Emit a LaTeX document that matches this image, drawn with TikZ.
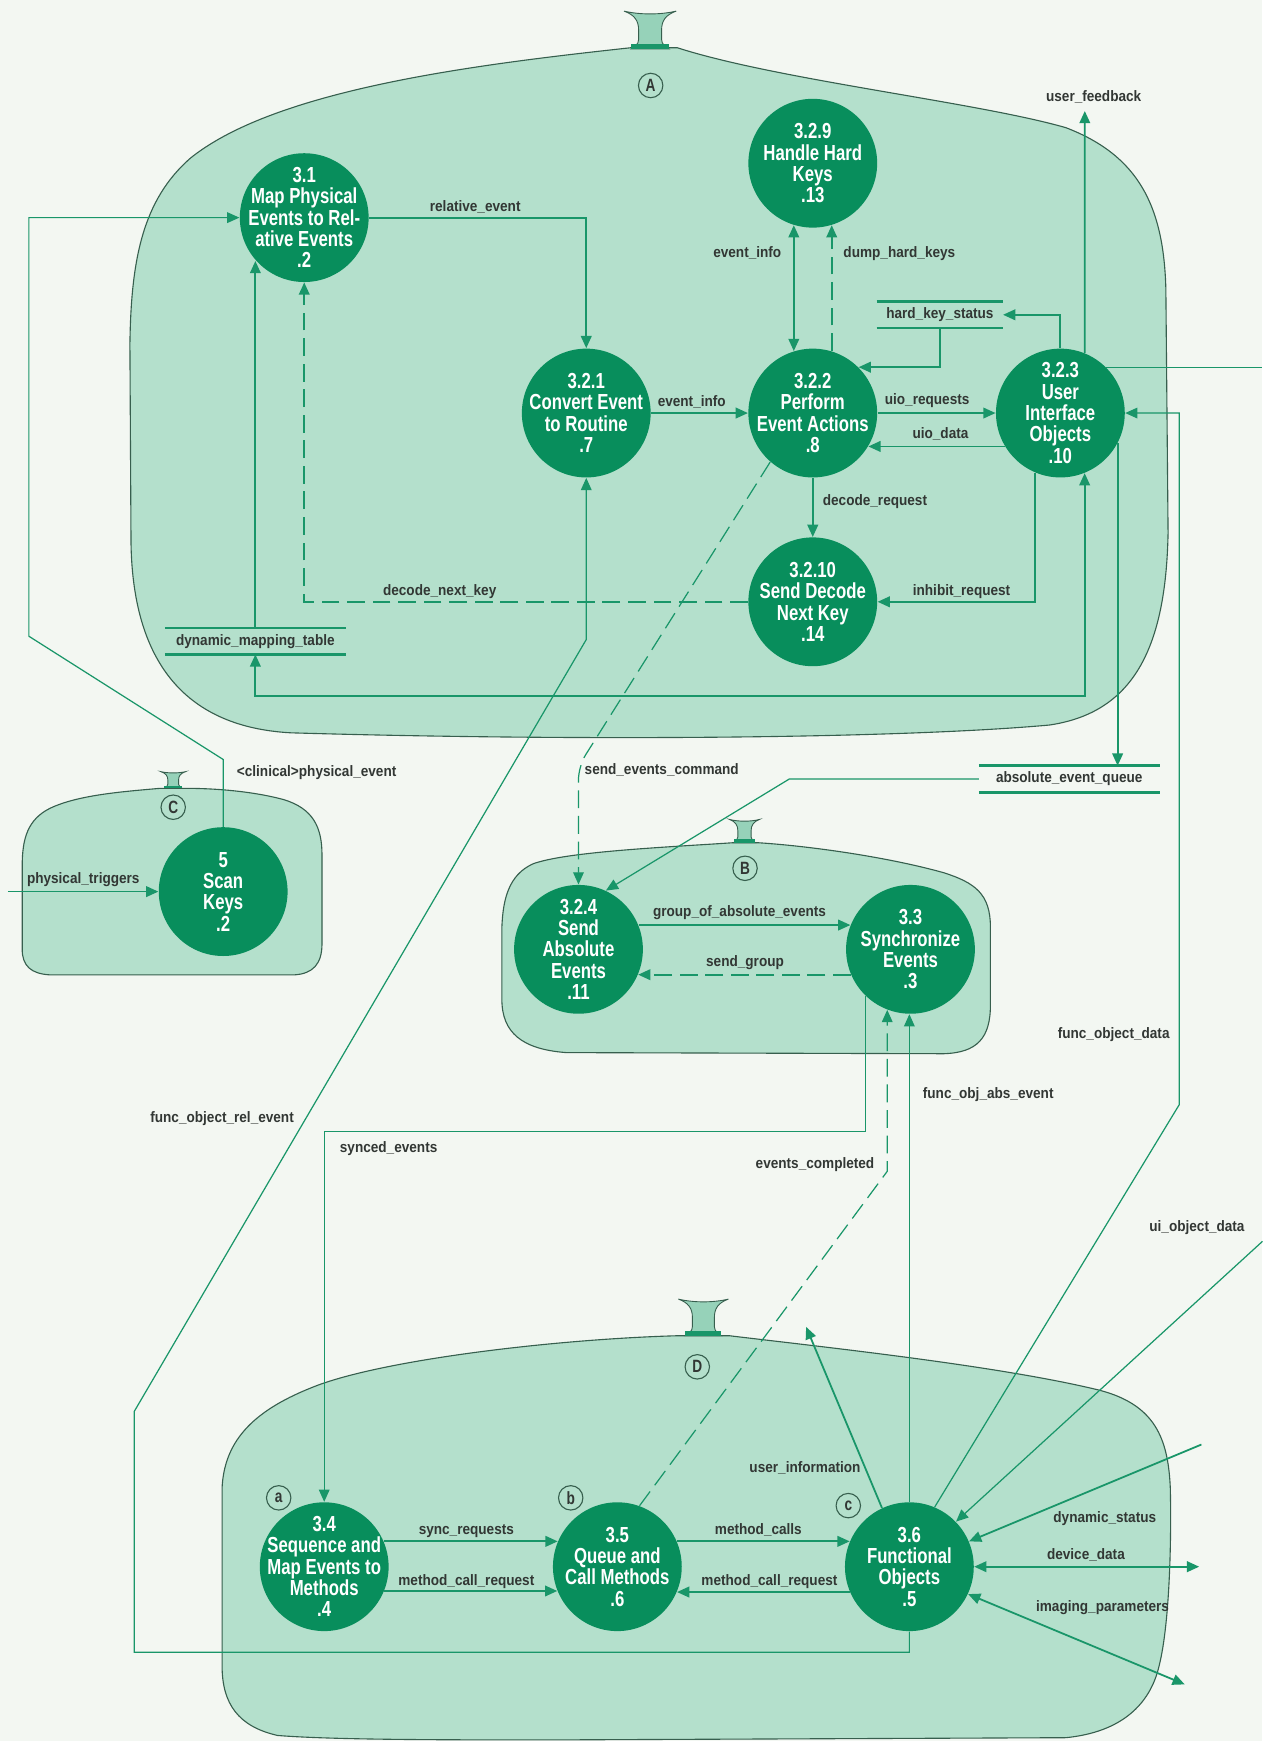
\documentclass[tikz,border=0pt]{standalone}
\usepackage{fontspec}
\setmainfont{Liberation Sans}
\newfontfamily\procfont{Liberation Sans}[FakeStretch=0.77]
\newfontfamily\labelfont{Liberation Sans}[FakeStretch=0.9]
\usepackage{xcolor}
\usetikzlibrary{arrows.meta,positioning}

\definecolor{pagebg}{RGB}{243,247,242}
\definecolor{blobfill}{RGB}{180,224,204}
\definecolor{procgreen}{RGB}{8,142,92}
\definecolor{flowgreen}{RGB}{25,150,105}
\definecolor{blobline}{RGB}{55,95,78}
\definecolor{labelgray}{RGB}{50,55,52}
\definecolor{neckfill}{RGB}{150,210,185}

\tikzset{
  >={Triangle[length=5.5pt,width=4.8pt]},
  proc/.style={circle, fill=procgreen, text=white, minimum size=58pt, inner sep=-9pt,
    align=center, font=\procfont\bfseries\fontsize{9.8}{9.6}\selectfont},
  lbl/.style={text=labelgray, inner sep=0pt, font=\labelfont\bfseries\fontsize{6.8}{8}\selectfont},
  storeline/.style={draw=flowgreen, line width=1.3pt},
  store/.style={lbl, minimum width=#1, minimum height=11.5pt,
    append after command={(\tikzlastnode.north west) edge[storeline] (\tikzlastnode.north east)
      (\tikzlastnode.south west) edge[storeline] (\tikzlastnode.south east)}},
  tag/.style={circle, draw=blobline, line width=0.5pt, inner sep=0pt, minimum size=11pt,
    text=labelgray, font=\procfont\bfseries\fontsize{8}{8}\selectfont},
  blob/.style={fill=blobfill, draw=blobline, line width=0.5pt},
  flow/.style={draw=flowgreen, line width=0.8pt},
  thinflow/.style={draw=flowgreen, line width=0.55pt},
  dashflow/.style={dash pattern=on 8pt off 3.5pt},
  neck/.pic={
    \fill[neckfill, draw=blobline, line width=0.4pt] (-0.5,-1) .. controls (-0.3,-0.9) and (-0.22,-0.75) .. (-0.22,-0.5)
      -- (-0.22,-0.25) .. controls (-0.22,-0.12) and (-0.3,-0.05) .. (-0.36,0) -- (0.36,0)
      .. controls (0.3,-0.05) and (0.22,-0.12) .. (0.22,-0.25) -- (0.22,-0.5)
      .. controls (0.22,-0.75) and (0.3,-0.9) .. (0.5,-1)
      .. controls (0.2,-0.9) and (-0.2,-0.9) .. (-0.5,-1) -- cycle;
    \fill[flowgreen] (-0.36,0) rectangle (0.36,-0.14);
  }
}

\begin{document}
\begin{tikzpicture}[x=0.5pt,y=-0.5pt]
\useasboundingbox (0,0) rectangle (1137,1568);
\fill[pagebg] (0,0) rectangle (1137,1568);

% the four bubbles
\fill[blob] (568,43) .. controls (430,58) and (250,80) .. (172,142)
  .. controls (128,180) and (118,235) .. (117,310) -- (118,490)
  .. controls (120,600) and (170,655) .. (262,660)
  .. controls (500,667) and (800,666) .. (945,653)
  .. controls (1020,642) and (1050,585) .. (1052,480) -- (1050,260)
  .. controls (1048,185) and (1025,140) .. (960,115)
  .. controls (880,92) and (700,72) .. (610,43) -- cycle;
\fill[blob] (660,759) .. controls (600,763) and (510,767) .. (480,778)
  .. controls (458,788) and (453,810) .. (452,835) -- (452,900)
  .. controls (452,930) and (470,945) .. (510,948) -- (850,949)
  .. controls (880,948) and (892,935) .. (892,905) -- (892,835)
  .. controls (892,805) and (878,795) .. (850,786)
  .. controls (800,772) and (730,762) .. (683,759) -- cycle;
\fill[blob] (144,710) .. controls (110,713) and (70,716) .. (45,728)
  .. controls (25,738) and (20,755) .. (20,780) -- (20,855)
  .. controls (20,870) and (28,877) .. (45,878) -- (265,878)
  .. controls (282,877) and (290,868) .. (290,850) -- (290,770)
  .. controls (290,745) and (282,728) .. (255,720)
  .. controls (225,712) and (190,710) .. (168,710) -- cycle;
\fill[blob] (610,1203) .. controls (500,1206) and (340,1225) .. (280,1250)
  .. controls (225,1272) and (202,1300) .. (200,1340) -- (200,1500)
  .. controls (200,1535) and (215,1555) .. (250,1563)
  .. controls (300,1567) and (400,1567) .. (500,1567) -- (960,1565)
  .. controls (1010,1560) and (1036,1535) .. (1044,1500)
  .. controls (1054,1460) and (1055,1380) .. (1054,1340)
  .. controls (1052,1295) and (1040,1265) .. (990,1252)
  .. controls (900,1230) and (740,1213) .. (657,1203) -- cycle;

\pic[xscale=47, yscale=34] at (585.5,44) {neck};
\pic[xscale=27, yscale=21] at (670.5,759) {neck};
\pic[xscale=22, yscale=15] at (156,710) {neck};
\pic[xscale=45, yscale=33] at (633.5,1203) {neck};

\node[tag] (tA) at (586,77) {A};
\node[tag] (tB) at (671,782) {B};
\node[tag] (tC) at (156,727) {C};
\node[tag] (tD) at (628,1231) {D};
\node[tag] (ta) at (251,1349) {a};
\node[tag] (tb) at (514,1349) {b};
\node[tag] (tc) at (764,1356) {c};

% processes
\node[proc] (n31) at (274,196) {3.1\\Map Physical\\Events to Rel-\\ative Events\\.2};
\node[proc] (n321) at (528,372) {3.2.1\\Convert Event\\to Routine\\.7};
\node[proc] (n329) at (732,147) {3.2.9\\Handle Hard\\Keys\\.13};
\node[proc] (n322) at (732,372) {3.2.2\\Perform\\Event Actions\\.8};
\node[proc] (n323) at (955,372) {3.2.3\\User\\Interface\\Objects\\.10};
\node[proc] (n3210) at (732,542) {3.2.10\\Send Decode\\Next Key\\.14};
\node[proc] (n5) at (201,803) {5\\Scan\\Keys\\.2};
\node[proc] (n324) at (521,855) {3.2.4\\Send\\Absolute\\Events\\.11};
\node[proc] (n33) at (820,855) {3.3\\Synchronize\\Events\\.3};
\node[proc] (n34) at (292,1411) {3.4\\Sequence and\\Map Events to\\Methods\\.4};
\node[proc] (n35) at (556,1411) {3.5\\Queue and\\Call Methods\\.6};
\node[proc] (n36) at (819,1411) {3.6\\Functional\\Objects\\.5};

% stores
\node[store=56.5pt] (hks) at (846.5,283.5) {hard\_key\_status};
\node[store=81pt] (dmt) at (230,577.5) {dynamic\_mapping\_table};
\node[store=81pt] (aeq) at (963,701.5) {absolute\_event\_queue};

% free ends and bends
\coordinate (fbTip) at (977,100);
\coordinate (rEdge) at (1137,0);
\coordinate (ptIn) at (7,803);
\coordinate (clA) at (201,684);
\coordinate (clB) at (26,573);
\coordinate (forA) at (121,1488);
\coordinate (forB) at (121,1271);
\coordinate (forC) at (528,576);
\coordinate (syC) at (0,1019);
\coordinate (ecB) at (799,1055);
\coordinate (secB) at (521,690);
\coordinate (aeqB) at (711,701.5);
\coordinate (fodA) at (1062,995);
\coordinate (uiTip) at (726,1195);
\coordinate (uodIn) at (1137,1118);
\coordinate (dsIn) at (1082,1301);
\coordinate (ddOut) at (1080,1411);
\coordinate (ipOut) at (1067,1517);

% bubble A flows
\draw[flow,->] (n31.east) -| (n321.north);
\draw[flow,->] (n321.east) -- (n322.west);
\draw[flow,<->] (n322.107) -- (n329.-107);
\draw[flow,dashflow,->] (n322.73) -- (n329.-73);
\draw[flow,->] (hks.south) |- (n322.45);
\draw[flow,->] (n323.north) |- (hks.east);
\draw[flow,->] (n323.68) -- (fbTip);
\draw[flow,->] (n322.east) -- (n323.west);
\draw[flow,->] (n323.211) -- (n322.-31);
\draw[flow,->] (n322.south) -- (n3210.north);
\draw[flow,->] (n323.-113) |- (n3210.east);
\draw[flow,dashflow,->] (n3210.west) -| (n31.south);
\draw[flow,->] (dmt.north) -- (dmt.north |- n31.-138);
\draw[flow,<->] (n323.-68) -- ++(0,201) -| (dmt.south);
\draw[flow,->] (n323.-28) -- (n323.-28 |- aeq.north);
\draw[thinflow] (n323.45) -- (n323.45 -| rEdge);

% between bubbles
\draw[flow,->] (ptIn) -- (n5.west);
\draw[thinflow,->] (n5.north) -- (clA) -- (clB) |- (n31.west);
\draw[thinflow,->] (n36.south) |- (forA) -- (forB) -- (forC) -- (n321.south);
\draw[thinflow,dashflow,->,rounded corners=6pt] (n322.-131) -- (secB) -- (n324.north);
\draw[thinflow,->] (aeq.west) -- (aeqB) -- (n324.65);
\draw[flow,->] (n324.22) -- (n33.158);
\draw[flow,dashflow,->] (n33.-157) -- (n324.-23);
\draw[thinflow,->] (n33.-134) -- (n33.-134 |- syC) -| (n34.north);
\draw[thinflow,dashflow,->] (n35.70) -- (ecB) -- (n33.-111);
\draw[thinflow,->] (n36.north) -- (n36.north |- n33.south);
\draw[thinflow,->] (n36.67) -- (fodA) |- (n323.east);

% bubble D flows
\draw[flow,->] (n34.23) -- (n35.157);
\draw[flow,->] (n34.-22) -- (n35.-158);
\draw[flow,->] (n35.23) -- (n36.157);
\draw[flow,->] (n36.-157) -- (n35.-23);
\draw[flow,->] (n36.115) -- (uiTip);
\draw[thinflow,->] (uodIn) -- (n36.44);
\draw[flow,->] (dsIn) -- (n36.23);
\draw[flow,<->] (n36.east) -- (ddOut);
\draw[flow,<->] (n36.-25) -- (ipOut);

% flow labels
\node[lbl] (lRel) at (428,186) {relative\_event};
\node[lbl] (lEi) at (623,362) {event\_info};
\node[lbl] (lEiH) at (673,228) {event\_info};
\node[lbl] (lDhk) at (810,228) {dump\_hard\_keys};
\node[lbl] (lUf) at (985,87) {user\_feedback};
\node[lbl] (lUr) at (835,361) {uio\_requests};
\node[lbl] (lUd) at (847,391) {uio\_data};
\node[lbl] (lDr) at (788,452) {decode\_request};
\node[lbl] (lIr) at (866,533) {inhibit\_request};
\node[lbl] (lDnk) at (396,533) {decode\_next\_key};
\node[lbl,anchor=west] (lCpe) at (213,696) {<clinical>physical\_event};
\node[lbl] (lPt) at (75,792) {physical\_triggers};
\node[lbl] (lSec) at (596,693) {send\_events\_command};
\node[lbl] (lGae) at (666,822) {group\_of\_absolute\_events};
\node[lbl] (lSg) at (671,867) {send\_group};
\node[lbl] (lFod) at (1003,932) {func\_object\_data};
\node[lbl] (lFoae) at (890,986) {func\_obj\_abs\_event};
\node[lbl] (lFore) at (200,1007) {func\_object\_rel\_event};
\node[lbl] (lSe) at (350,1034) {synced\_events};
\node[lbl] (lEc) at (734,1049) {events\_completed};
\node[lbl] (lUod) at (1078,1106) {ui\_object\_data};
\node[lbl] (lUi) at (725,1322) {user\_information};
\node[lbl] (lSr) at (420,1379) {sync\_requests};
\node[lbl] (lMcrA) at (420,1424) {method\_call\_request};
\node[lbl] (lMc) at (683,1378) {method\_calls};
\node[lbl] (lMcrB) at (693,1424) {method\_call\_request};
\node[lbl] (lDs) at (995,1368) {dynamic\_status};
\node[lbl] (lDd) at (978,1400) {device\_data};
\node[lbl] (lIp) at (993,1448) {imaging\_parameters};
\end{tikzpicture}
\end{document}
